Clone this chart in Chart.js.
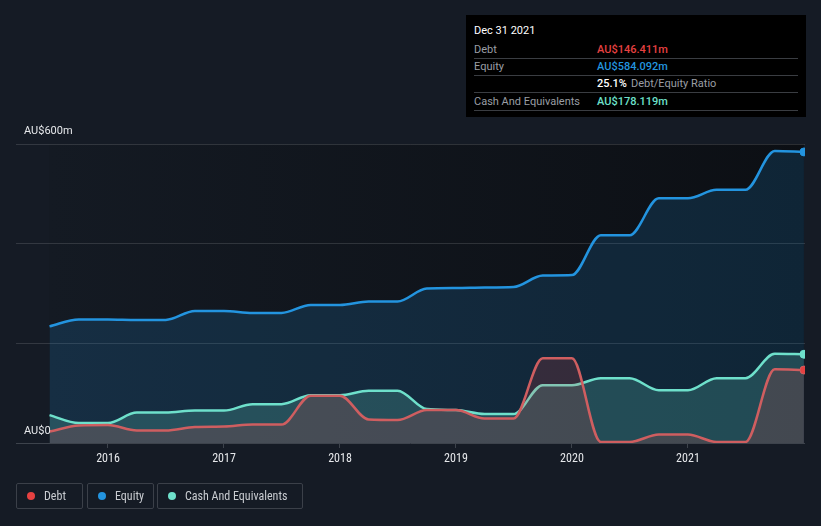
<!DOCTYPE html>
<html>
<head>
<meta charset="utf-8">
<script src="https://cdn.jsdelivr.net/npm/chart.js@4.4.0/dist/chart.umd.min.js"></script>
<style>
  html, body { margin: 0; padding: 0; background: #151b25; }
  body { width: 821px; height: 526px; position: relative; overflow: hidden; font-family: Roboto, "Noto Sans", sans-serif; }
  #wrap { position: absolute; left: 0; top: 0; width: 821px; height: 526px; }
  #tip { position: absolute; left: 466px; top: 15px; width: 340px; height: 102px; background: #000; font-size: 11px; color: #9a9ea4; }
  #tip .title { position: absolute; left: 8px; top: 9px; color: #fff; font-size: 11px; }
  #tip .row { position: absolute; left: 8px; width: 324px; height: 17px; line-height: 17px; border-bottom: 1px solid #3a3d42; }
  #tip .lab { position: absolute; left: 0; }
  #tip .val { position: absolute; left: 123px; font-weight: 500; }
  #legend { position: absolute; left: 16px; top: 483px; }
  .lg { position: absolute; top: 0; height: 26px; border: 1px solid #3b4049; border-radius: 2px; box-sizing: border-box; color: #c9ccd1; font-size: 12px; font-family: "Roboto Condensed", "Liberation Sans Narrow", "DejaVu Sans Condensed", Roboto, sans-serif; line-height: 24px; white-space: nowrap; }
  .lg i { position: absolute; left: 10px; top: 8px; width: 8px; height: 8px; border-radius: 50%; }
  .lg span { position: absolute; left: 27px; }
  .ylab { position: absolute; left: 24px; color: #e6e8eb; font-size: 11px; }
</style>
</head>
<body>
<div id="wrap"><canvas id="chart"></canvas></div>
<div class="ylab" style="top:124px">AU$600m</div>
<div class="ylab" style="top:424px">AU$0</div>
<div id="tip">
  <div class="title">Dec 31 2021</div>
  <div class="row" style="top:26px"><span class="lab">Debt</span><span class="val" style="color:#e64141">AU$146.411m</span></div>
  <div class="row" style="top:43px"><span class="lab">Equity</span><span class="val" style="color:#2394df">AU$584.092m</span></div>
  <div class="row" style="top:60px;border-bottom:none"><span class="val" style="color:#fff">25.1%</span><span class="lab" style="left:157px">Debt/Equity Ratio</span></div>
  <div class="row" style="top:77px;border-top:1px solid #3a3d42"><span class="lab">Cash And Equivalents</span><span class="val" style="color:#6ee0cb">AU$178.119m</span></div>
</div>
<div id="legend">
  <div class="lg" style="left:0;width:67px"><i style="background:#e64141"></i><span>Debt</span></div>
  <div class="lg" style="left:71px;width:67px"><i style="background:#2394df"></i><span>Equity</span></div>
  <div class="lg" style="left:141px;width:146px"><i style="background:#6ee0cb"></i><span>Cash And Equivalents</span></div>
</div>
<script>
// Quarterly points (values in AU$ millions)
const dates = [
  '2015-06-30', '2015-09-30', '2015-12-31', '2016-03-31', '2016-06-30', '2016-09-30', '2016-12-31',
  '2017-03-31', '2017-06-30', '2017-09-30', '2017-12-31', '2018-03-31', '2018-06-30', '2018-09-30',
  '2018-12-31', '2019-03-31', '2019-06-30', '2019-09-30', '2019-12-31', '2020-03-31', '2020-06-30',
  '2020-09-30', '2020-12-31', '2021-03-31', '2021-06-30', '2021-09-30', '2021-12-31'
];
const debt = [23, 35, 36, 25, 25, 32, 33, 37, 37, 95, 95, 47, 46, 66, 66, 49, 49, 170, 170, 2, 2, 17, 17, 2, 2, 148, 146.411];
const equity = [234, 248, 248, 247, 247, 265, 265, 261, 261, 277, 277, 284, 284, 310, 311, 312, 313, 336, 337, 417, 417, 491, 491, 508, 508, 586, 584.092];
const cash = [56, 40, 40, 61, 61, 65, 65, 78, 78, 96, 96, 105, 105, 68, 66, 58, 58, 116, 116, 130, 130, 106, 106, 130, 130, 179, 178.119];
const yearTicks = [2016, 2017, 2018, 2019, 2020, 2021];
const yGrid = [0, 200, 400, 600];

function toYear(s) {
  const d = new Date(s + 'T00:00:00Z');
  const y = d.getUTCFullYear();
  const start = Date.UTC(y, 0, 1), end = Date.UTC(y + 1, 0, 1);
  return y + (d.getTime() - start + 86400000) / (end - start);
}
const xs = dates.map(toYear);
const pts = arr => arr.map((v, i) => ({ x: xs[i], y: v }));
const last = dates.length - 1;
const endDot = c => c.dataIndex === last ? 4 : 0;

// darker plot background over the data range, under the grid
const bgPlugin = {
  id: 'bg',
  beforeDraw(chart) {
    const { ctx, chartArea, scales } = chart;
    const x0 = scales.x.getPixelForValue(xs[0]);
    const x1 = scales.x.getPixelForValue(xs[last]);
    const g = ctx.createLinearGradient(x0, 0, x1, 0);
    g.addColorStop(0, 'rgba(20,26,35,1)');
    g.addColorStop(1, 'rgba(12,15,20,1)');
    ctx.save();
    ctx.fillStyle = g;
    ctx.fillRect(x0, chartArea.top, x1 - x0, chartArea.bottom - chartArea.top);
    ctx.restore();
  }
};

Chart.register(bgPlugin);

new Chart(document.getElementById('chart'), {
  type: 'line',
  data: {
    datasets: [
      {
        label: 'Debt',
        data: pts(debt),
        borderColor: '#cf5e60',
        backgroundColor: 'rgba(230,65,65,0.17)',
        pointBackgroundColor: '#e64141',
        fill: 'origin',
        order: 1
      },
      {
        label: 'Cash And Equivalents',
        data: pts(cash),
        borderColor: '#6ee0cb',
        backgroundColor: 'rgba(110,224,203,0.2)',
        pointBackgroundColor: '#6ee0cb',
        fill: 'origin',
        order: 2
      },
      {
        label: 'Equity',
        data: pts(equity),
        borderColor: '#2394df',
        backgroundColor: 'rgba(35,148,223,0.17)',
        pointBackgroundColor: '#2394df',
        fill: 'origin',
        order: 3
      }
    ]
  },
  options: {
    responsive: true,
    maintainAspectRatio: false,
    animation: false,
    layout: { padding: { left: 16, right: 16, top: 144, bottom: 0 } },
    elements: {
      line: { borderWidth: 2.5, cubicInterpolationMode: 'monotone' },
      point: {
        radius: endDot,
        hoverRadius: endDot,
        borderColor: '#ffffff',
        borderWidth: 1
      }
    },
    plugins: {
      legend: { display: false },
      tooltip: { enabled: false }
    },
    scales: {
      x: {
        type: 'linear',
        min: 2015.207,
        max: 2022.009,
        afterBuildTicks: s => { s.ticks = yearTicks.map(v => ({ value: v })); },
        afterFit: s => { s.height = 83; },
        grid: { drawOnChartArea: false, drawTicks: true, tickLength: 5, color: '#3d434c' },
        border: { display: false },
        ticks: {
          color: '#e6e8eb',
          font: { family: '"Roboto Condensed", "Liberation Sans Narrow", "DejaVu Sans Condensed", Roboto', size: 12 },
          padding: 4,
          maxRotation: 0,
          callback: v => String(v)
        }
      },
      y: {
        min: 0,
        max: 600,
        afterBuildTicks: s => { s.ticks = yGrid.map(v => ({ value: v })); },
        afterFit: s => { s.width = 0; },
        grid: { color: c => c.tick.value === 0 ? '#3d434c' : 'rgba(255,255,255,0.13)', drawTicks: false },
        border: { display: false },
        ticks: { display: false }
      }
    }
  }
});
</script>
</body>
</html>
